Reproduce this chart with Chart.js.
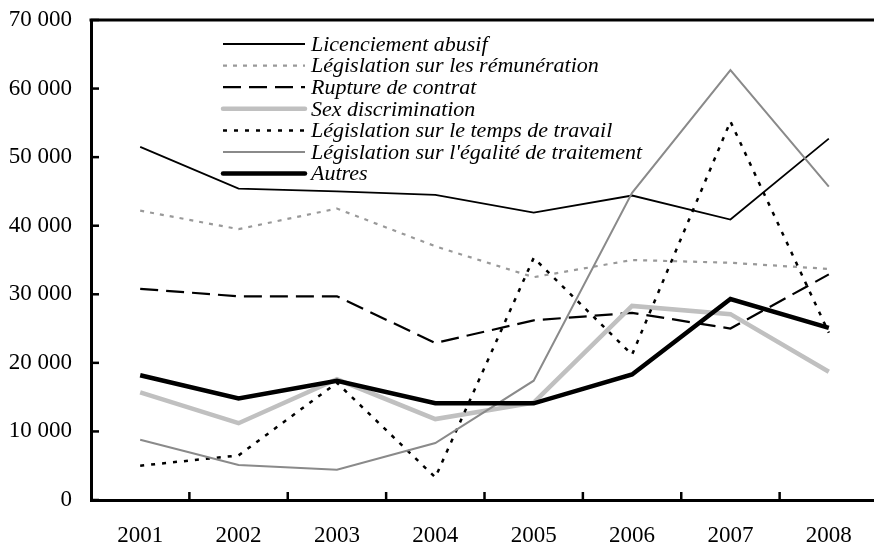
<!DOCTYPE html>
<html>
<head>
<meta charset="utf-8">
<script src="https://cdn.jsdelivr.net/npm/chart.js@4/dist/chart.umd.min.js"></script>
<style>
html,body{margin:0;padding:0;overflow:hidden;background:#fff;}
#wrap{width:878px;height:547px;}
</style>
</head>
<body>
<div id="wrap"><canvas id="c" width="878" height="547"></canvas></div>
<script>
const years = ['2001','2002','2003','2004','2005','2006','2007','2008'];
const yTicks = [0,10000,20000,30000,40000,50000,60000,70000];

const licenciement = [51500,45400,45000,44500,41900,44400,40900,52700];
const remuneration = [42200,39500,42500,37000,32500,35000,34600,33700];
const rupture      = [30800,29700,29700,22900,26200,27300,25000,32900];
const sexDiscr     = [15700,11200,17600,11800,14200,28300,27100,18700];
const tempsTravail = [5000,6500,17100,3300,35300,21200,55200,24400];
const egalite      = [8800,5100,4400,8300,17400,44800,62700,45700];
const autres       = [18200,14800,17400,14100,14100,18300,29300,25100];

const seriesNames = [
  'Licenciement abusif',
  'Législation sur les rémunération',
  'Rupture de contrat',
  'Sex discrimination',
  'Législation sur le temps de travail',
  "Législation sur l'égalité de traitement",
  'Autres'
];
const seriesData = [licenciement, remuneration, rupture, sexDiscr, tempsTravail, egalite, autres];
const styles = [
  {c:'#000000', w:1.8, d:[]},
  {c:'#999999', w:2.2, d:[4,6]},
  {c:'#000000', w:2.2, d:[18,8]},
  {c:'#c0c0c0', w:4.5, d:[]},
  {c:'#000000', w:2.5, d:[4,7]},
  {c:'#8a8a8a', w:2, d:[]},
  {c:'#000000', w:4.5, d:[]}
];

const FONT = '"Liberation Serif", "Times New Roman", serif';

const datasets = seriesNames.map((n,i)=>({
  label:n, data:seriesData[i], borderColor:styles[i].c, borderWidth:styles[i].w,
  borderDash:styles[i].d, pointRadius:0, tension:0, fill:false,
  borderJoinStyle:'miter', order: seriesNames.length - i
}));

const fmt = v => String(v).replace(/\B(?=(\d{3})+(?!\d))/g,' ');

const framePlugin = {
  id:'frame',
  afterDraw(chart){
    const ctx = chart.ctx, a = chart.chartArea, xs = chart.scales.x, ys = chart.scales.y;
    ctx.save();
    ctx.strokeStyle = '#000'; ctx.lineWidth = 3; ctx.setLineDash([]);
    ctx.beginPath(); ctx.moveTo(a.left-1.5, a.top); ctx.lineTo(a.right, a.top); ctx.stroke();
    ctx.lineWidth = 2.5;
    yTicks.forEach(v=>{
      const y = ys.getPixelForValue(v);
      ctx.beginPath(); ctx.moveTo(a.left, y); ctx.lineTo(a.left+8, y); ctx.stroke();
    });
    for(let i=0;i<years.length-1;i++){
      const x = (xs.getPixelForValue(i)+xs.getPixelForValue(i+1))/2;
      ctx.beginPath(); ctx.moveTo(x, a.bottom); ctx.lineTo(x, a.bottom-8); ctx.stroke();
    }
    const lx0 = 223, lx1 = 305, tx = 311, y0 = 44, dy = 21.6;
    ctx.font = 'italic 22px ' + FONT;
    ctx.textBaseline = 'middle'; ctx.textAlign = 'left'; ctx.fillStyle = '#000';
    seriesNames.forEach((n,i)=>{
      const y = y0 + i*dy;
      ctx.strokeStyle = styles[i].c; ctx.lineWidth = styles[i].w; ctx.setLineDash(styles[i].d);
      ctx.lineCap = (i===3||i===6) ? 'round' : 'butt';
      ctx.beginPath(); ctx.moveTo(lx0, y); ctx.lineTo(lx1, y); ctx.stroke();
      ctx.fillText(n, tx, y+1);
    });
    ctx.restore();
  }
};

new Chart(document.getElementById('c'), {
  type:'line',
  data:{labels:years, datasets},
  options:{
    responsive:false, animation:false,
    layout:{padding:{top:20,right:0,left:0,bottom:0}},
    plugins:{legend:{display:false}, tooltip:{enabled:false}},
    scales:{
      x:{
        offset:true,
        grid:{display:false, drawTicks:false, offset:true},
        border:{display:true, color:'#000', width:3},
        ticks:{color:'#000', font:{family:FONT, size:23}, padding:22, maxRotation:0},
        afterFit(s){ s.height = 47; s.paddingLeft = 0; s.paddingRight = 0; }
      },
      y:{
        min:0, max:70000,
        afterBuildTicks(s){ s.ticks = yTicks.map(v=>({value:v})); },
        grid:{display:false, drawTicks:false},
        border:{display:true, color:'#000', width:3},
        ticks:{color:'#000', font:{family:FONT, size:23}, padding:19, callback:v=>fmt(v)},
        afterFit(s){ s.width = 91; s.paddingTop = 0; s.paddingBottom = 0; }
      }
    }
  },
  plugins:[framePlugin]
});
</script>
</body>
</html>
